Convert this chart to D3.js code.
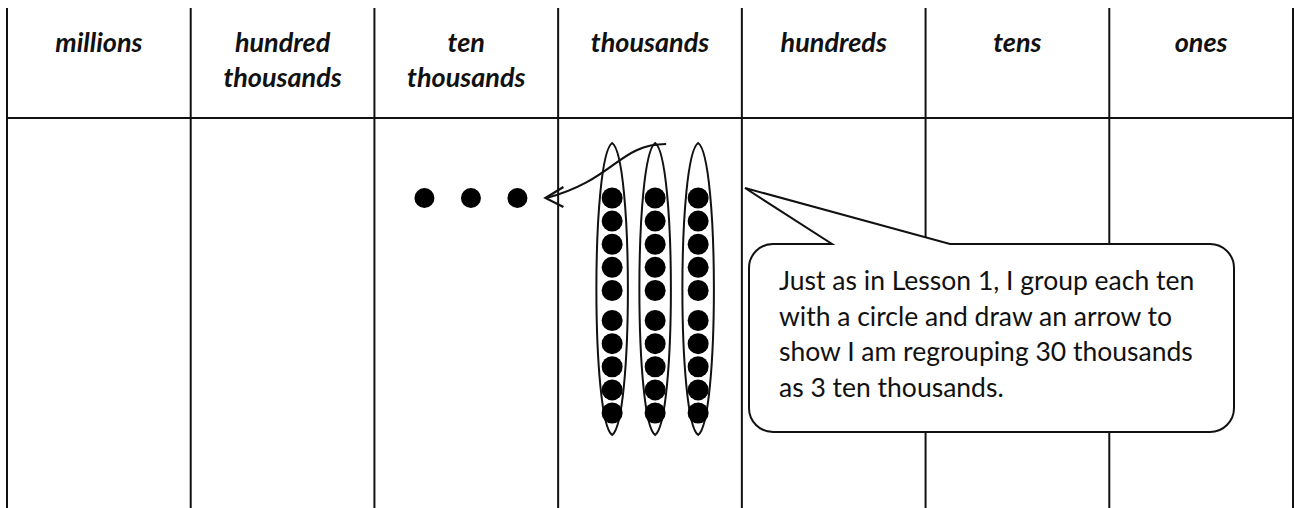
<!DOCTYPE html>
<html lang="en">
<head>
  <meta charset="utf-8">
  <title>place value chart - regrouping</title>
  <script src="https://d3js.org/d3.v7.min.js"></script>
  <style>
    body { margin: 0; background: #fff; }
    .grid line { stroke: #111; stroke-width: 2; }
    .head text {
      font-family: Lato, "Open Sans", sans-serif;
      font-style: italic;
      font-weight: bold;
      font-size: 27px;
      fill: #111;
      text-anchor: middle;
    }
    .note text {
      font-family: Lato, "Open Sans", sans-serif;
      font-size: 26.5px;
      fill: #111;
    }
  </style>
</head>
<body>
  <script>
    // Data
    const places = ["millions", "hundred thousands", "ten thousands", "thousands", "hundreds", "tens", "ones"];
    const headLines = [["millions"], ["hundred", "thousands"], ["ten", "thousands"], ["thousands"], ["hundreds"], ["tens"], ["ones"]];
    const tenThousandDisks = [0, 1, 2];      // 3 ten thousands after regrouping
    const thousandGroups = [0, 1, 2];        // 3 circled groups
    const disksPerGroup = [0, 1, 2, 3, 4, 5, 6, 7, 8, 9]; // 10 thousands per group
    const noteLines = [
      "Just as in Lesson 1, I group each ten",
      "with a circle and draw an arrow to",
      "show I am regrouping 30 thousands",
      "as 3 ten thousands."
    ];

    // Config
    const width = 1295, height = 508;
    const gridLeft = 7, gridRight = 1293, gridTop = 8, headBottom = 118;

    const svg = d3.select("body").append("svg")
      .attr("width", width).attr("height", height);

    // column scale
    const xScale = d3.scaleBand().domain(places).range([gridLeft, gridRight]);
    const bw = xScale.bandwidth();

    // grid
    const grid = svg.append("g").attr("class", "grid");
    const edges = places.map(p => xScale(p)).concat([gridRight]);
    grid.selectAll("line.v").data(edges).join("line").attr("class", "v")
      .attr("x1", d => d).attr("x2", d => d)
      .attr("y1", gridTop).attr("y2", height);
    grid.append("line")
      .attr("x1", gridLeft).attr("x2", gridRight)
      .attr("y1", headBottom).attr("y2", headBottom);

    // headers
    const head = svg.append("g").attr("class", "head");
    head.selectAll("text").data(places).join("text")
      .attr("x", d => xScale(d) + bw / 2)
      .attr("y", 52)
      .each(function (d, i) {
        d3.select(this).selectAll("tspan").data(headLines[i]).join("tspan")
          .attr("x", xScale(d) + bw / 2)
          .attr("dy", (t, j) => j === 0 ? 0 : 35)
          .text(t => t);
      });

    // disk rows: 10 per group, small gap after the fifth
    const yDisk = d3.scaleLinear().domain([0, 9.3]).range([198, 413]);
    const diskY = i => yDisk(i + (i >= 5 ? 0.3 : 0));

    // thousands: circled groups
    const x0 = xScale("thousands");
    const xGroup = d3.scalePoint().domain(thousandGroups).range([x0 + 54, x0 + 140]);
    const lensTop = 143, lensBottom = 435, lensW = 21, lensA = 14;
    const marks = svg.append("g");
    const groups = marks.selectAll("g.group").data(thousandGroups).join("g").attr("class", "group");
    groups.append("path")
      .attr("d", g => {
        const cx = xGroup(g);
        return `M${cx},${lensTop} C${cx + lensW},${lensTop + lensA} ${cx + lensW},${lensBottom - lensA} ${cx},${lensBottom}`
          + ` C${cx - lensW},${lensBottom - lensA} ${cx - lensW},${lensTop + lensA} ${cx},${lensTop} Z`;
      })
      .attr("fill", "#fff").attr("stroke", "#111").attr("stroke-width", 2);
    groups.selectAll("circle").data(g => disksPerGroup.map(i => ({ g, i }))).join("circle")
      .attr("cx", d => xGroup(d.g))
      .attr("cy", d => diskY(d.i))
      .attr("r", 10.5)
      .attr("fill", "#000");

    // ten thousands disks
    const t0 = xScale("ten thousands");
    const xTen = d3.scalePoint().domain(tenThousandDisks).range([t0 + 50, t0 + 143]);
    marks.selectAll("circle.ten").data(tenThousandDisks).join("circle").attr("class", "ten")
      .attr("cx", d => xTen(d)).attr("cy", diskY(0)).attr("r", 10)
      .attr("fill", "#000");

    // regrouping arrow
    const tipX = xTen(2) + 28, tipY = diskY(0);
    const startX = xGroup(1) + 11, startY = lensTop + 1;
    marks.append("path")
      .attr("d", `M${startX},${startY} C${startX - 47},${startY} ${startX - 52},${startY + 36} ${tipX + 1},${tipY}`)
      .attr("fill", "none").attr("stroke", "#111").attr("stroke-width", 2.2);
    marks.append("path")
      .attr("d", `M${tipX + 18},${tipY - 11} L${tipX},${tipY} L${tipX + 18},${tipY + 9}`)
      .attr("fill", "none").attr("stroke", "#111").attr("stroke-width", 2.2);

    // callout
    const bx0 = 749, by0 = 244, bx1 = 1234, by1 = 432, r = 24;
    const tip = [745, 188], baseL = 832, baseR = 950;
    const note = svg.append("g").attr("class", "note");
    note.append("path")
      .attr("d", `M${bx0 + r},${by0} L${baseL},${by0} L${tip[0]},${tip[1]} L${baseR},${by0} L${bx1 - r},${by0}`
        + ` A${r},${r} 0 0 1 ${bx1},${by0 + r} L${bx1},${by1 - r} A${r},${r} 0 0 1 ${bx1 - r},${by1}`
        + ` L${bx0 + r},${by1} A${r},${r} 0 0 1 ${bx0},${by1 - r} L${bx0},${by0 + r} A${r},${r} 0 0 1 ${bx0 + r},${by0} Z`)
      .attr("fill", "#fff").attr("stroke", "#111").attr("stroke-width", 2);
    note.selectAll("text").data(noteLines).join("text")
      .attr("x", 779)
      .attr("y", (d, i) => 290 + i * 35.5)
      .text(d => d);
  </script>
</body>
</html>
